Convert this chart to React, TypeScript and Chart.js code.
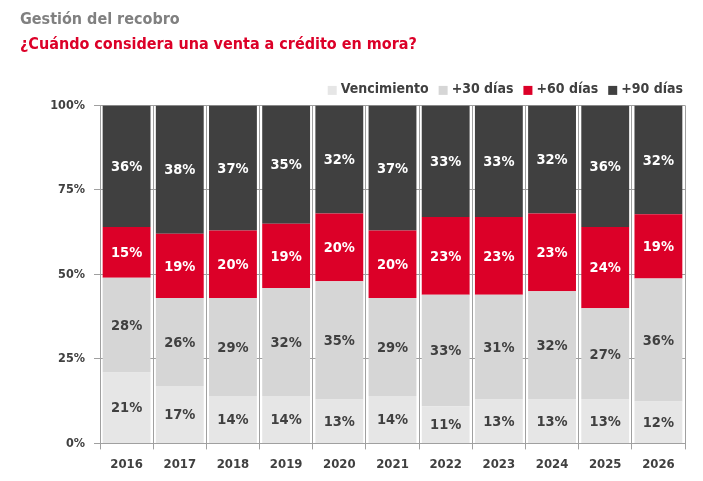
import React, { useEffect, useRef } from 'react';
import { Chart, registerables } from 'chart.js';

Chart.register(...registerables);

const years = ['2016', '2017', '2018', '2019', '2020', '2021', '2022', '2023', '2024', '2025', '2026'];
const vencimiento = [21, 17, 14, 14, 13, 14, 11, 13, 13, 13, 12.4];
const dias30 = [28, 26, 29, 32, 35, 29, 33, 31, 32, 27, 36.4];
const dias60 = [15, 19, 20, 19, 20, 20, 23, 23, 23, 24, 19];
const dias90 = [36, 38, 37, 35, 32, 37, 33, 33, 32, 36, 32.2];
const yTicks = [0, 25, 50, 75, 100];

const FONT = '"DejaVu Sans Condensed", "DejaVu Sans", sans-serif';
const DARK = '#404040';
const RED = '#dc0028';

// white labels on red and dark segments, dark text on the greys
const labelColors = [DARK, DARK, '#ffffff', '#ffffff'];

const barLabels = {
  id: 'barLabels',
  afterDatasetsDraw(chart) {
    const ctx = chart.ctx;
    ctx.save();
    ctx.font = 'bold 14.5px ' + FONT;
    ctx.textAlign = 'center';
    ctx.textBaseline = 'middle';
    chart.data.datasets.forEach((ds, i) => {
      const meta = chart.getDatasetMeta(i);
      meta.data.forEach((bar, j) => {
        const v = ds.data[j];
        const { x, y, base } = bar.getProps(['x', 'y', 'base'], true);
        ctx.fillStyle = labelColors[i];
        ctx.fillText(Math.round(v) + '%', x, (y + base) / 2 + 1);
      });
    });
    ctx.restore();
  },
};

// legend drawn by hand so box/text spacing matches the original
const boxLegend = {
  id: 'boxLegend',
  afterDraw(chart) {
    const ctx = chart.ctx;
    const area = chart.chartArea;
    const box = 9;
    const textGap = 4;
    const itemGap = 10;
    ctx.save();
    ctx.font = 'bold 14px ' + FONT;
    ctx.textBaseline = 'middle';
    const items = chart.data.datasets.map((ds) => ({
      label: ds.label,
      color: ds.backgroundColor,
      w: ctx.measureText(ds.label).width,
    }));
    const total = items.reduce((s, it) => s + box + textGap + it.w, 0) + itemGap * (items.length - 1);
    let x = area.right - 2 - total;
    const y = area.top - 16;
    items.forEach((it) => {
      ctx.fillStyle = it.color;
      ctx.fillRect(x, y - box / 2 + 1, box, box);
      x += box + textGap;
      ctx.fillStyle = DARK;
      ctx.fillText(it.label, x, y);
      x += it.w + itemGap;
    });
    ctx.restore();
  },
};

const App = () => {
  const canvasRef = useRef(null);
  const chartRef = useRef(null);

  useEffect(() => {
    document.body.style.margin = '0';
    if (!canvasRef.current) return;

    const data = {
      labels: years,
      datasets: [
        { label: 'Vencimiento', data: vencimiento, backgroundColor: '#e6e6e6' },
        { label: '+30 días', data: dias30, backgroundColor: '#d6d6d6' },
        { label: '+60 días', data: dias60, backgroundColor: RED },
        { label: '+90 días', data: dias90, backgroundColor: DARK },
      ],
    };

    const config = {
      type: 'bar',
      data,
      plugins: [barLabels, boxLegend],
      options: {
        animation: false,
        responsive: false,
        layout: { padding: { left: 20, right: 18, top: 10, bottom: 2 } },
        datasets: {
          bar: { barPercentage: 0.9, categoryPercentage: 1, borderWidth: 0 },
        },
        plugins: {
          title: {
            display: true,
            text: 'Gestión del recobro',
            align: 'start',
            color: '#808080',
            font: { family: FONT, size: 16, weight: 'bold' },
            padding: { top: 0, bottom: 6 },
          },
          subtitle: {
            display: true,
            text: '¿Cuándo considera una venta a crédito en mora?',
            align: 'start',
            color: RED,
            font: { family: FONT, size: 16, weight: 'bold' },
            padding: { top: 0, bottom: 51 },
          },
          legend: { display: false },
          tooltip: { enabled: false },
        },
        scales: {
          x: {
            stacked: true,
            grid: { color: '#a0a0a0', tickLength: 6, offset: true },
            border: { color: '#a0a0a0' },
            ticks: { color: DARK, font: { family: FONT, size: 13, weight: 'bold' }, padding: 7 },
          },
          y: {
            stacked: true,
            min: 0,
            max: 100,
            afterBuildTicks: (axis) => {
              axis.ticks = yTicks.map((v) => ({ value: v }));
            },
            afterFit: (axis) => {
              axis.width = 80;
            },
            grid: { color: '#a0a0a0', tickLength: 6 },
            border: { color: '#a0a0a0' },
            ticks: {
              color: DARK,
              font: { family: FONT, size: 12.5, weight: 'bold' },
              padding: 9,
              callback: (v) => v + '%',
            },
          },
        },
      },
    };

    if (chartRef.current) chartRef.current.destroy();
    chartRef.current = new Chart(canvasRef.current, config);

    return () => {
      if (chartRef.current) {
        chartRef.current.destroy();
        chartRef.current = null;
      }
    };
  }, []);

  return (
    <div style={{ width: 703, height: 481, background: '#ffffff' }}>
      <canvas ref={canvasRef} width={703} height={481} style={{ width: 703, height: 481 }} />
    </div>
  );
};

export default App;
